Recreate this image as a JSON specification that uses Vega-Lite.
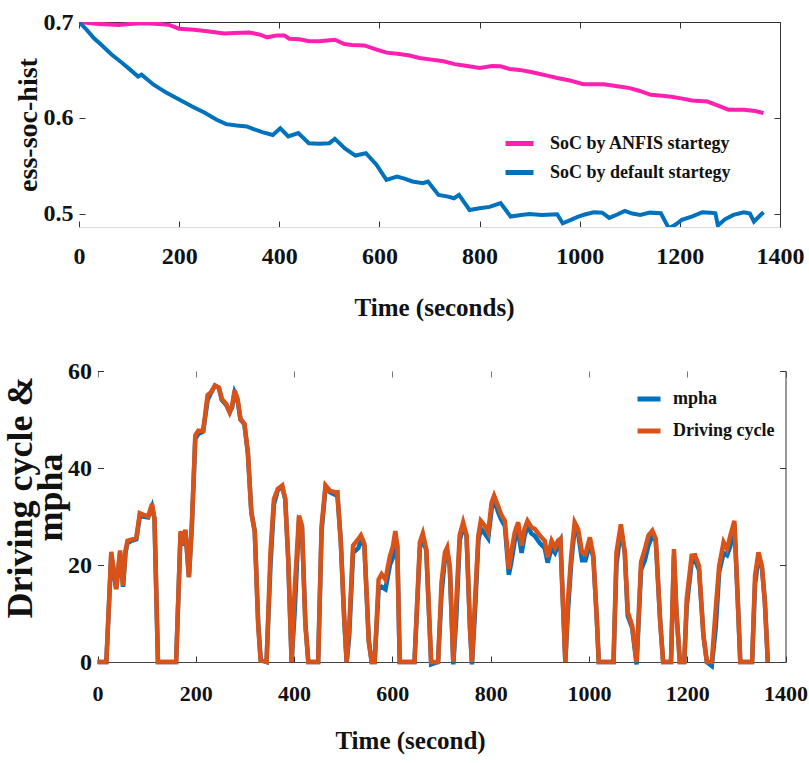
{
 "$schema": "https://vega.github.io/schema/vega-lite/v6.json",
 "padding": {"left": 1, "top": 10, "right": 0, "bottom": 2},
 "background": "white",
 "spacing": 39,
 "bounds": "full",
 "resolve": {"scale": {"color": "independent"}, "legend": {"color": "independent"}},
 "config": {
  "view": {"stroke": null},
  "font": "Liberation Serif",
  "axis": {"labelFont": "Liberation Serif", "labelFontWeight": "bold", "labelColor": "#111", "titleFont": "Liberation Serif", "titleFontWeight": "bold", "titleColor": "#111", "grid": false, "tickColor": "#333", "labelFontSize": 24, "titleFontSize": 25, "labelFlush": false, "labelOverlap": false},
  "legend": {"labelFont": "Liberation Serif", "labelFontWeight": "bold", "labelColor": "#111", "labelFontSize": 18, "labelLimit": 400, "symbolType": "stroke", "symbolStrokeWidth": 5, "symbolSize": 700}
 },
 "datasets": {
  "anfis": [
   {"t":0,"soc":0.700},{"t":20,"soc":0.699},{"t":40,"soc":0.698},{"t":60,"soc":0.6975},{"t":80,"soc":0.697},{"t":100,"soc":0.698},{"t":120,"soc":0.6985},{"t":140,"soc":0.6985},{"t":160,"soc":0.698},{"t":180,"soc":0.697},{"t":200,"soc":0.693},{"t":230,"soc":0.692},{"t":260,"soc":0.690},{"t":290,"soc":0.688},{"t":310,"soc":0.6885},{"t":340,"soc":0.689},{"t":360,"soc":0.687},{"t":376,"soc":0.684},{"t":395,"soc":0.686},{"t":410,"soc":0.686},{"t":420,"soc":0.6825},{"t":440,"soc":0.682},{"t":460,"soc":0.680},{"t":480,"soc":0.680},{"t":500,"soc":0.681},{"t":511,"soc":0.6815},{"t":530,"soc":0.677},{"t":545,"soc":0.676},{"t":570,"soc":0.6755},{"t":590,"soc":0.672},{"t":614,"soc":0.668},{"t":640,"soc":0.6665},{"t":660,"soc":0.665},{"t":680,"soc":0.6625},{"t":700,"soc":0.661},{"t":728,"soc":0.659},{"t":750,"soc":0.656},{"t":769,"soc":0.6545},{"t":800,"soc":0.652},{"t":825,"soc":0.654},{"t":842,"soc":0.6537},{"t":860,"soc":0.651},{"t":880,"soc":0.650},{"t":900,"soc":0.648},{"t":914,"soc":0.6465},{"t":935,"soc":0.644},{"t":955,"soc":0.6415},{"t":980,"soc":0.639},{"t":1007,"soc":0.635},{"t":1030,"soc":0.635},{"t":1048,"soc":0.635},{"t":1075,"soc":0.633},{"t":1100,"soc":0.631},{"t":1120,"soc":0.628},{"t":1142,"soc":0.624},{"t":1165,"soc":0.623},{"t":1183,"soc":0.622},{"t":1205,"soc":0.620},{"t":1224,"soc":0.618},{"t":1255,"soc":0.617},{"t":1275,"soc":0.613},{"t":1297,"soc":0.6085},{"t":1328,"soc":0.6084},{"t":1350,"soc":0.607},{"t":1367,"soc":0.605}
  ],
  "default": [
   {"t":0,"soc":0.700},{"t":15,"soc":0.692},{"t":30,"soc":0.683},{"t":45,"soc":0.676},{"t":65,"soc":0.666},{"t":87,"soc":0.657},{"t":105,"soc":0.649},{"t":118,"soc":0.643},{"t":125,"soc":0.645},{"t":149,"soc":0.6345},{"t":175,"soc":0.626},{"t":200,"soc":0.619},{"t":225,"soc":0.612},{"t":252,"soc":0.605},{"t":275,"soc":0.598},{"t":294,"soc":0.5934},{"t":315,"soc":0.592},{"t":335,"soc":0.591},{"t":350,"soc":0.588},{"t":366,"soc":0.585},{"t":387,"soc":0.582},{"t":402,"soc":0.589},{"t":418,"soc":0.5805},{"t":438,"soc":0.584},{"t":459,"soc":0.5735},{"t":480,"soc":0.573},{"t":500,"soc":0.5735},{"t":511,"soc":0.578},{"t":531,"soc":0.568},{"t":552,"soc":0.5606},{"t":573,"soc":0.563},{"t":594,"soc":0.551},{"t":614,"soc":0.5352},{"t":635,"soc":0.5387},{"t":650,"soc":0.5365},{"t":666,"soc":0.5335},{"t":687,"soc":0.5317},{"t":697,"soc":0.5335},{"t":718,"soc":0.5195},{"t":735,"soc":0.518},{"t":749,"soc":0.516},{"t":759,"soc":0.5195},{"t":780,"soc":0.5038},{"t":800,"soc":0.5056},{"t":820,"soc":0.507},{"t":842,"soc":0.511},{"t":862,"soc":0.4969},{"t":883,"soc":0.4986},{"t":900,"soc":0.4995},{"t":924,"soc":0.4986},{"t":945,"soc":0.499},{"t":955,"soc":0.4993},{"t":966,"soc":0.4899},{"t":980,"soc":0.493},{"t":997,"soc":0.4969},{"t":1010,"soc":0.499},{"t":1028,"soc":0.5014},{"t":1045,"soc":0.501},{"t":1059,"soc":0.4955},{"t":1075,"soc":0.499},{"t":1090,"soc":0.5028},{"t":1105,"soc":0.500},{"t":1121,"soc":0.4986},{"t":1140,"soc":0.501},{"t":1162,"soc":0.5003},{"t":1178,"soc":0.4847},{"t":1190,"soc":0.488},{"t":1204,"soc":0.4934},{"t":1225,"soc":0.497},{"t":1245,"soc":0.5014},{"t":1260,"soc":0.501},{"t":1271,"soc":0.5003},{"t":1276,"soc":0.4875},{"t":1290,"soc":0.494},{"t":1307,"soc":0.4986},{"t":1328,"soc":0.5014},{"t":1340,"soc":0.500},{"t":1348,"soc":0.4917},{"t":1367,"soc":0.5014}
  ],
  "cycle": [
   {"t":0,"d":0,"m":0},{"t":18,"d":0,"m":0},{"t":28,"d":22.7,"m":22},{"t":38,"d":15.1,"m":15},{"t":46,"d":23,"m":22.5},{"t":52,"d":15.7,"m":15.5},{"t":57,"d":23,"m":22.5},{"t":61,"d":25,"m":24.5},{"t":69,"d":25.2,"m":25},{"t":79,"d":25.6,"m":25.3},{"t":86,"d":30.7,"m":30},{"t":93,"d":30.4,"m":30},{"t":103,"d":30,"m":29.8},{"t":111,"d":32.6,"m":32},{"t":116,"d":29.5,"m":29.5},{"t":123,"d":0,"m":0},{"t":160,"d":0,"m":0},{"t":169,"d":27,"m":26.5},{"t":174,"d":24.2,"m":24},{"t":179,"d":27.3,"m":27},{"t":186,"d":17.5,"m":17.5},{"t":192,"d":28.3,"m":28},{"t":199,"d":46.7,"m":46},{"t":205,"d":47.7,"m":47},{"t":215,"d":47.7,"m":47.5},{"t":224,"d":55,"m":54},{"t":231,"d":55.6,"m":55.5},{"t":239,"d":57,"m":57},{"t":247,"d":56.6,"m":56.5},{"t":253,"d":54.2,"m":54},{"t":262,"d":53.2,"m":53},{"t":269,"d":51.5,"m":51.5},{"t":274,"d":52.9,"m":52.5},{"t":279,"d":56,"m":55.5},{"t":285,"d":54.2,"m":54},{"t":291,"d":50.1,"m":50},{"t":299,"d":49.1,"m":49},{"t":306,"d":43.2,"m":43},{"t":313,"d":30.8,"m":31},{"t":320,"d":26.8,"m":27},{"t":327,"d":7.6,"m":8},{"t":332,"d":0.3,"m":0.5},{"t":344,"d":0,"m":0},{"t":352,"d":22.7,"m":20},{"t":359,"d":33.6,"m":32.5},{"t":367,"d":35.7,"m":35.5},{"t":376,"d":36.4,"m":36},{"t":382,"d":33.6,"m":33.6},{"t":388,"d":21.2,"m":21.5},{"t":395,"d":0,"m":0},{"t":401,"d":14.4,"m":10},{"t":410,"d":30.2,"m":29},{"t":416,"d":28.1,"m":28},{"t":423,"d":7.6,"m":8},{"t":429,"d":0,"m":0},{"t":449,"d":0,"m":0},{"t":456,"d":28.1,"m":27},{"t":464,"d":36.4,"m":36},{"t":473,"d":35.3,"m":35},{"t":483,"d":35,"m":34.5},{"t":488,"d":35,"m":34.8},{"t":495,"d":24.7,"m":25},{"t":502,"d":8.9,"m":9},{"t":507,"d":0,"m":0},{"t":512,"d":6.9,"m":5},{"t":520,"d":24,"m":22.5},{"t":531,"d":25.4,"m":23.5},{"t":536,"d":26.1,"m":25},{"t":543,"d":24.4,"m":24},{"t":552,"d":4.1,"m":4.5},{"t":558,"d":0,"m":0},{"t":564,"d":0,"m":0},{"t":572,"d":17,"m":15},{"t":578,"d":18.1,"m":15.5},{"t":586,"d":17,"m":15},{"t":595,"d":21.8,"m":20},{"t":601,"d":23.8,"m":21.5},{"t":606,"d":27,"m":25.5},{"t":610,"d":24,"m":24},{"t":615,"d":0,"m":0},{"t":645,"d":0,"m":0},{"t":656,"d":24.7,"m":23.5},{"t":662,"d":26.5,"m":25.5},{"t":669,"d":23.3,"m":23},{"t":679,"d":0,"m":-0.5},{"t":693,"d":0,"m":0},{"t":700,"d":16.4,"m":14},{"t":707,"d":22.6,"m":21.5},{"t":711.5,"d":23.6,"m":23},{"t":717,"d":19.2,"m":19.5},{"t":724,"d":0,"m":-0.5},{"t":730,"d":12.3,"m":9},{"t":737,"d":26.1,"m":25},{"t":744,"d":28.8,"m":28},{"t":751,"d":26.1,"m":26},{"t":758,"d":6.8,"m":7},{"t":762,"d":0,"m":-0.5},{"t":768,"d":12.3,"m":10},{"t":775,"d":26.1,"m":25},{"t":780,"d":29.1,"m":27.5},{"t":788,"d":28.1,"m":26.5},{"t":795,"d":26.7,"m":25.5},{"t":802,"d":32.9,"m":31.5},{"t":807,"d":34.3,"m":33.5},{"t":815,"d":32.2,"m":31},{"t":821,"d":30.5,"m":29.5},{"t":829,"d":29.1,"m":28},{"t":837,"d":19.2,"m":18},{"t":842,"d":22.6,"m":20.5},{"t":849,"d":26.7,"m":25},{"t":856,"d":28.8,"m":27},{"t":863,"d":24,"m":22.5},{"t":869,"d":27.4,"m":26},{"t":875,"d":29.1,"m":28},{"t":883,"d":27.8,"m":26.5},{"t":890,"d":27.4,"m":26},{"t":900,"d":26.1,"m":24.5},{"t":910,"d":25,"m":23.5},{"t":916,"d":21.6,"m":20.5},{"t":924,"d":25,"m":23.5},{"t":931,"d":23.6,"m":22.5},{"t":937,"d":25,"m":24},{"t":942,"d":25.4,"m":25},{"t":947,"d":12.3,"m":12.5},{"t":952,"d":0,"m":0},{"t":957,"d":12.3,"m":10},{"t":964,"d":21.9,"m":20.5},{"t":971,"d":28.8,"m":27.5},{"t":978,"d":27.4,"m":26.5},{"t":986,"d":22.6,"m":21},{"t":993,"d":22.3,"m":21},{"t":1002,"d":25.7,"m":24.5},{"t":1009,"d":21.9,"m":21.5},{"t":1016,"d":8.8,"m":9},{"t":1020,"d":0,"m":0},{"t":1050,"d":0,"m":0},{"t":1056,"d":22.6,"m":20},{"t":1065,"d":28.4,"m":27.5},{"t":1073,"d":22.6,"m":22.5},{"t":1079,"d":10.3,"m":9.5},{"t":1088,"d":7.5,"m":7},{"t":1097,"d":0,"m":-0.5},{"t":1106,"d":20.6,"m":19},{"t":1114,"d":23.3,"m":21},{"t":1121,"d":26.1,"m":24},{"t":1129,"d":27.1,"m":26},{"t":1136,"d":25.4,"m":25},{"t":1145,"d":8.2,"m":8.5},{"t":1151,"d":0,"m":0},{"t":1167,"d":0,"m":0},{"t":1173,"d":23.3,"m":22},{"t":1178,"d":10.3,"m":10.5},{"t":1185,"d":0,"m":0},{"t":1194,"d":0,"m":0},{"t":1199,"d":13,"m":11.5},{"t":1209,"d":21.9,"m":20.5},{"t":1216,"d":22,"m":21},{"t":1224,"d":19.8,"m":19},{"t":1233,"d":5.4,"m":5.5},{"t":1240,"d":0,"m":0},{"t":1250,"d":0,"m":-0.8},{"t":1258,"d":10.9,"m":7},{"t":1265,"d":19.8,"m":18.5},{"t":1274,"d":24.7,"m":22.5},{"t":1281,"d":23.3,"m":22},{"t":1288,"d":26.1,"m":24},{"t":1296,"d":29.1,"m":28.5},{"t":1303,"d":12.3,"m":12.5},{"t":1308,"d":0,"m":0},{"t":1332,"d":0,"m":0},{"t":1338,"d":17.8,"m":16},{"t":1345,"d":22.6,"m":21.5},{"t":1352,"d":19.8,"m":19.5},{"t":1358,"d":12.3,"m":12.5},{"t":1364,"d":0,"m":0}
  ]
 },
 "vconcat": [
  {
   "width": 701,
   "height": 205,
   "layer": [
    {
     "data": {"name": "anfis"},
     "mark": {"type": "line", "strokeWidth": 4, "clip": true},
     "encoding": {
      "x": {"field": "t", "type": "quantitative", "scale": {"domain": [0, 1400], "nice": false},
            "axis": {"values": [0,200,400,600,800,1000,1200,1400], "format": "d", "title": "Time (seconds)", "titleX": 355, "domainColor": "#dddddd", "tickSize": -6, "labelPadding": 23, "titlePadding": 27}},
      "y": {"field": "soc", "type": "quantitative", "scale": {"domain": [0.486, 0.7], "nice": false, "zero": false},
            "axis": {"values": [0.5, 0.6, 0.7], "format": ".1f", "title": "ess-soc-hist", "titleFontSize": 28, "titleX": -37, "domain": false, "tickSize": -6, "labelPadding": 12}},
      "color": {"datum": "SoC by ANFIS startegy", "type": "nominal",
                "scale": {"domain": ["SoC by ANFIS startegy", "SoC by default startegy"], "range": ["#FF20B0", "#0072BD"]},
                "legend": {"orient": "none", "legendX": 424, "legendY": 105, "title": null, "rowPadding": 2, "symbolSize": 784, "labelOffset": 14}}
     }
    },
    {
     "data": {"name": "default"},
     "mark": {"type": "line", "strokeWidth": 4, "clip": true},
     "encoding": {
      "x": {"field": "t", "type": "quantitative", "axis": {"orient": "top", "values": [0,200,400,600,800,1000,1200,1400], "labels": false, "title": null, "domainColor": "#333333", "tickSize": -6}},
      "y": {"field": "soc", "type": "quantitative", "axis": {"orient": "right", "values": [0.5, 0.6, 0.7], "labels": false, "title": null, "domainColor": "#333333", "tickSize": -6}},
      "color": {"datum": "SoC by default startegy", "type": "nominal"}
     }
    }
   ],
   "resolve": {"axis": {"x": "independent", "y": "independent"}}
  },
  {
   "width": 706.5,
   "height": 291,
   "layer": [
    {
     "data": {"name": "cycle"},
     "mark": {"type": "line", "strokeWidth": 4.5},
     "encoding": {
      "x": {"field": "t", "type": "quantitative", "scale": {"domain": [0, 1400], "nice": false, "range": [18.5, 706.5]},
            "axis": {"values": [0,200,400,600,800,1000,1200,1400], "format": "d", "labelFontSize": 22, "title": "Time (second)", "titleX": 331, "domainColor": "#444444", "tickSize": -6, "labelPadding": 27, "titlePadding": 24}},
      "y": {"field": "m", "type": "quantitative", "scale": {"domain": [0, 60], "nice": false},
            "axis": {"values": [0, 20, 40, 60], "title": ["Driving cycle &", "mpha"], "titleFontSize": 36, "titleLineHeight": 30, "titleY": 126, "titleX": -58.5, "offset": -18.5, "domain": false, "tickSize": -6, "labelPadding": 12}},
      "color": {"datum": "mpha", "type": "nominal",
                "scale": {"domain": ["mpha", "Driving cycle"], "range": ["#0072BD", "#D95319"]},
                "legend": {"orient": "none", "legendX": 556, "legendY": 14, "title": null, "rowPadding": 8, "symbolSize": 529, "labelOffset": 10}}
     }
    },
    {
     "data": {"name": "cycle"},
     "mark": {"type": "line", "strokeWidth": 4.5},
     "encoding": {
      "x": {"field": "t", "type": "quantitative", "axis": {"orient": "top", "values": [0,200,400,600,800,1000,1200,1400], "labels": false, "title": null, "domain": false, "tickColor": "#777777", "tickSize": -6}},
      "y": {"field": "d", "type": "quantitative", "axis": {"orient": "right", "values": [0, 20, 40, 60], "labels": false, "title": null, "domainColor": "#333333", "tickSize": -6}},
      "color": {"datum": "Driving cycle", "type": "nominal"}
     }
    }
   ],
   "resolve": {"axis": {"x": "independent", "y": "independent"}}
  }
 ]
}
